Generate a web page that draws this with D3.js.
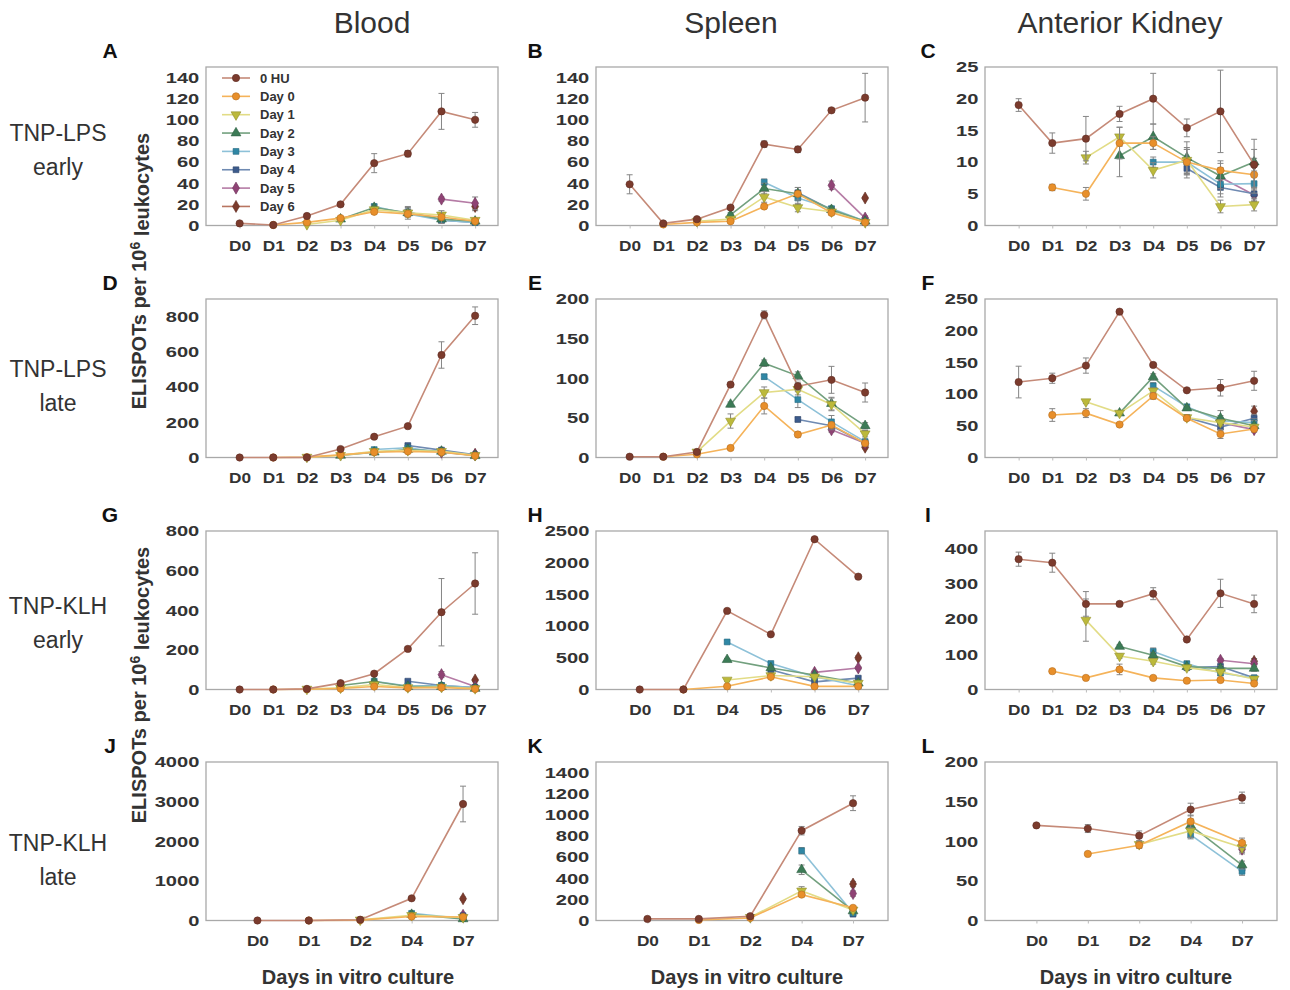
<!DOCTYPE html>
<html>
<head>
<meta charset="utf-8">
<script src="https://cdn.jsdelivr.net/npm/d3@7"></script>
<style>
  body { margin: 0; background: #fff; }
  text { font-family: "Liberation Sans", Arial, sans-serif; }
</style>
</head>
<body>
<svg id="fig" width="1290" height="990"></svg>
<script>
const _ = null;

// categories
const cats8 = ["D0", "D1", "D2", "D3", "D4", "D5", "D6", "D7"];
const catsH = ["D0", "D1", "D4", "D5", "D6", "D7"];
const cats5 = ["D0", "D1", "D2", "D4", "D7"];

const seriesNames = ["0 HU", "Day 0", "Day 1", "Day 2", "Day 3", "Day 4", "Day 5", "Day 6"];

// rows of each table: 0 HU, Day 0 ... Day 6
const valuesA = [
  [2, 0.5, 9, 20, 59, 68, 108, 100],
  [_, 0.5, 3, 7, 13, 11, 8, 4],
  [_, _, 1, 5, 15, 12, 10, 5],
  [_, _, _, 6, 17, 12, 6, 4],
  [_, _, _, _, 18, 11, 5, 3],
  [_, _, _, _, _, 13, 5, 3],
  [_, _, _, _, _, _, 25, 21],
  [_, _, _, _, _, _, _, 18]
];
const errorsA = [
  [1, 0.5, 2, 2, 9, 3, 17, 7],
  [_, _, 1, 1, 2, 2, 6, 1],
  [_, _, _, 1, 2, 6, 2, 1],
  [_, _, _, 1, 2, 3, 1, 1],
  [_, _, _, _, 2, 3, 1, 1],
  [_, _, _, _, _, 4, 1, 1],
  [_, _, _, _, _, _, 2, 6],
  [_, _, _, _, _, _, _, 4]
];

const valuesB = [
  [39, 2, 6, 17, 77, 72, 109, 121],
  [_, 1, 3, 4, 18, 30, 12, 3],
  [_, _, 4, 6, 27, 17, 13, 3],
  [_, _, _, 10, 35, 30, 15, 4],
  [_, _, _, _, 41, 26, 16, 4],
  [_, _, _, _, _, 31, 15, 3],
  [_, _, _, _, _, _, 38, 7],
  [_, _, _, _, _, _, _, 26]
];
const errorsB = [
  [9, 1, 1, 2, 3, 3, 2, 23],
  [_, _, 1, 1, 2, 2, 2, 1],
  [_, _, _, 2, 5, 4, 2, 1],
  [_, _, _, 2, 5, 6, 2, 1],
  [_, _, _, _, 3, 6, 2, 1],
  [_, _, _, _, _, 5, 2, 1],
  [_, _, _, _, _, _, 4, 2],
  [_, _, _, _, _, _, _, 1]
];

const valuesC = [
  [19, 13, 13.7, 17.6, 20, 15.4, 18, 9.6],
  [_, 6, 5, 13, 13, 10, 8.7, 8],
  [_, _, 10.7, 14, 8.7, 10.3, 3, 3.3],
  [_, _, _, 11, 14, 10.7, 7.8, 10],
  [_, _, _, _, 10, 10, 6.5, 6.6],
  [_, _, _, _, _, 9, 6, 5],
  [_, _, _, _, _, _, 7.6, 4.8],
  [_, _, _, _, _, _, _, 9.6]
];
const errorsC = [
  [1, 1.6, 3.5, 1.2, 4, 1.4, 6.5, 4],
  [_, 0.5, 1, 2.5, 1, 2, 1.5, 2],
  [_, _, 1, 1.5, 1.2, 2, 1, 1],
  [_, _, _, 3.3, 2, 2.5, 2, 2],
  [_, _, _, _, 0.8, 2, 1.5, 1.5],
  [_, _, _, _, _, 1.5, 1.5, 1],
  [_, _, _, _, _, _, 1.5, 1],
  [_, _, _, _, _, _, _, 1]
];

const valuesD = [
  [0, 0, 0, 48, 118, 178, 582, 805],
  [_, 0, 2, 15, 30, 35, 30, 10],
  [_, _, 2, 12, 35, 40, 35, 12],
  [_, _, _, 12, 30, 45, 35, 10],
  [_, _, _, _, 45, 55, 30, 12],
  [_, _, _, _, _, 68, 42, 15],
  [_, _, _, _, _, _, 30, 15],
  [_, _, _, _, _, _, _, 18]
];
const errorsD = [
  [_, _, _, 5, 8, 10, 75, 50],
  [_, _, _, 3, 5, 5, 5, 3],
  [_, _, _, 3, 5, 5, 5, 3],
  [_, _, _, 3, 5, 8, 5, 3],
  [_, _, _, _, 8, 10, 5, 3],
  [_, _, _, _, _, 10, 8, 3],
  [_, _, _, _, _, _, 5, 3],
  [_, _, _, _, _, _, _, 3]
];

const valuesE = [
  [1, 1, 7, 92, 180, 90, 98, 82],
  [_, 1, 4, 12, 65, 29, 41, 18],
  [_, _, 7, 46, 82, 86, 67, 30],
  [_, _, _, 67, 119, 103, 68, 40],
  [_, _, _, _, 102, 73, 45, 20],
  [_, _, _, _, _, 48, 40, 18],
  [_, _, _, _, _, _, 35, 18],
  [_, _, _, _, _, _, _, 13]
];
const errorsE = [
  [_, _, 2, 3, 5, 5, 17, 12],
  [_, _, 1, 2, 10, 3, 3, 3],
  [_, _, 2, 9, 7, 7, 8, 4],
  [_, _, _, 3, 4, 5, 8, 4],
  [_, _, _, _, 3, 10, 8, 3],
  [_, _, _, _, _, 3, 5, 3],
  [_, _, _, _, _, _, 3, 3],
  [_, _, _, _, _, _, _, 2]
];

const valuesF = [
  [119, 125, 145, 230, 146, 106, 110, 121],
  [_, 67, 70, 52, 97, 62, 37, 45],
  [_, _, 88, 70, 105, 63, 55, 48],
  [_, _, _, 70, 127, 78, 62, 50],
  [_, _, _, _, 113, 80, 58, 55],
  [_, _, _, _, _, 63, 48, 62],
  [_, _, _, _, _, _, 55, 44],
  [_, _, _, _, _, _, _, 73]
];
const errorsF = [
  [25, 8, 12, 2, 3, 2, 13, 15],
  [_, 10, 7, 2, 5, 3, 7, 4],
  [_, _, 3, 3, 5, 3, 5, 4],
  [_, _, _, 3, 5, 3, 12, 8],
  [_, _, _, _, 5, 3, 8, 6],
  [_, _, _, _, _, 3, 6, 6],
  [_, _, _, _, _, _, 5, 4],
  [_, _, _, _, _, _, _, 8]
];

const valuesG = [
  [0, 0, 3, 32, 80, 205, 390, 535],
  [_, 0, 1, 5, 15, 8, 10, 3],
  [_, _, 2, 8, 25, 10, 12, 5],
  [_, _, _, 20, 40, 15, 15, 5],
  [_, _, _, _, 42, 18, 20, 8],
  [_, _, _, _, _, 42, 20, 10],
  [_, _, _, _, _, _, 75, 15],
  [_, _, _, _, _, _, _, 48]
];
const errorsG = [
  [_, _, _, 5, 8, 10, 170, 155],
  [_, _, _, 2, 4, 3, 3, 2],
  [_, _, _, 3, 5, 3, 3, 2],
  [_, _, _, 4, 6, 4, 4, 2],
  [_, _, _, _, 6, 4, 4, 2],
  [_, _, _, _, _, 6, 4, 3],
  [_, _, _, _, _, _, 15, 5],
  [_, _, _, _, _, _, _, 5]
];

const valuesH = [
  [0, 0, 1240, 870, 2370, 1780],
  [_, 0, 50, 200, 50, 50],
  [_, _, 150, 220, 200, 100],
  [_, _, 470, 340, 230, 100],
  [_, _, 750, 410, 200, 60],
  [_, _, _, 310, 120, 180],
  [_, _, _, _, 270, 340],
  [_, _, _, _, _, 500]
];
const errorsH = [
  [_, _, 20, 20, 20, 20],
  [_, _, 20, 20, 20, 20],
  [_, _, 20, 20, 20, 20],
  [_, _, 20, 20, 20, 20],
  [_, _, 20, 20, 20, 20],
  [_, _, _, 20, 20, 20],
  [_, _, _, _, 20, 20],
  [_, _, _, _, _, 30]
];

const valuesI = [
  [370, 360, 243, 243, 272, 142, 273, 243],
  [_, 52, 33, 57, 33, 25, 27, 17],
  [_, _, 197, 95, 80, 62, 50, 30],
  [_, _, _, 122, 97, 65, 60, 60],
  [_, _, _, _, 108, 73, 47, 33],
  [_, _, _, _, _, 62, 65, 33],
  [_, _, _, _, _, _, 83, 73],
  [_, _, _, _, _, _, _, 80]
];
const errorsI = [
  [20, 27, 35, 5, 17, 5, 40, 25],
  [_, 4, 5, 15, 4, 4, 4, 4],
  [_, _, 60, 6, 8, 5, 5, 5],
  [_, _, _, 5, 8, 5, 8, 8],
  [_, _, _, _, 10, 8, 8, 5],
  [_, _, _, _, _, 5, 8, 5],
  [_, _, _, _, _, _, 5, 8],
  [_, _, _, _, _, _, _, 8]
];

const valuesJ = [
  [0, 0, 20, 560, 2940],
  [_, 0, 10, 100, 90],
  [_, _, 15, 130, 80],
  [_, _, _, 150, 40],
  [_, _, _, 180, 50],
  [_, _, _, _, 120],
  [_, _, _, _, 130],
  [_, _, _, _, 550]
];
const errorsJ = [
  [_, _, 10, 20, 450],
  [_, _, _, 20, 20],
  [_, _, _, 20, 20],
  [_, _, _, 30, 20],
  [_, _, _, 40, 20],
  [_, _, _, _, 30],
  [_, _, _, _, 30],
  [_, _, _, _, 40]
];

const valuesK = [
  [15, 15, 40, 850, 1110],
  [_, 5, 25, 245, 120],
  [_, _, 30, 280, 100],
  [_, _, _, 480, 90],
  [_, _, _, 660, 70],
  [_, _, _, _, 60],
  [_, _, _, _, 255],
  [_, _, _, _, 345]
];
const errorsK = [
  [5, 5, 10, 40, 70],
  [_, 5, 10, 20, 15],
  [_, _, 10, 40, 15],
  [_, _, _, 45, 15],
  [_, _, _, 30, 15],
  [_, _, _, _, 15],
  [_, _, _, _, 25],
  [_, _, _, _, 25]
];

const valuesL = [
  [120, 116, 107, 140, 155],
  [_, 84, 95, 125, 98],
  [_, _, 96, 113, 92],
  [_, _, _, 120, 70],
  [_, _, _, 108, 62],
  [_, _, _, _, 66],
  [_, _, _, _, 90],
  [_, _, _, _, 95]
];
const errorsL = [
  [2, 5, 6, 8, 7],
  [_, 2, 4, 8, 6],
  [_, _, 4, 8, 6],
  [_, _, _, 8, 5],
  [_, _, _, 5, 5],
  [_, _, _, _, 5],
  [_, _, _, _, 6],
  [_, _, _, _, 6]
];

const lineColors = ["#c58a78", "#f5b35a", "#e2dc86", "#72a07e", "#8dc1d8", "#6f8ab2", "#b57ba5", "#b87561"];
const markColors = ["#7b3b2d", "#e88f2a", "#bcb93b", "#3c7b56", "#2f87a5", "#3c5b8c", "#8f4375", "#7b3a2c"];
const markTypes = ["circle", "circle", "down", "up", "square", "square", "diamond", "diamond"];

const panels = [
  { letter: "A", row: 0, col: 0, cats: cats8, values: valuesA, errors: errorsA, yMax: 150, yTop: 140, step: 20 },
  { letter: "B", row: 0, col: 1, cats: cats8, values: valuesB, errors: errorsB, yMax: 150, yTop: 140, step: 20 },
  { letter: "C", row: 0, col: 2, cats: cats8, values: valuesC, errors: errorsC, yMax: 25, yTop: 25, step: 5 },
  { letter: "D", row: 1, col: 0, cats: cats8, values: valuesD, errors: errorsD, yMax: 900, yTop: 800, step: 200 },
  { letter: "E", row: 1, col: 1, cats: cats8, values: valuesE, errors: errorsE, yMax: 200, yTop: 200, step: 50 },
  { letter: "F", row: 1, col: 2, cats: cats8, values: valuesF, errors: errorsF, yMax: 250, yTop: 250, step: 50 },
  { letter: "G", row: 2, col: 0, cats: cats8, values: valuesG, errors: errorsG, yMax: 800, yTop: 800, step: 200 },
  { letter: "H", row: 2, col: 1, cats: catsH, values: valuesH, errors: errorsH, yMax: 2500, yTop: 2500, step: 500 },
  { letter: "I", row: 2, col: 2, cats: cats8, values: valuesI, errors: errorsI, yMax: 450, yTop: 400, step: 100 },
  { letter: "J", row: 3, col: 0, cats: cats5, values: valuesJ, errors: errorsJ, yMax: 4000, yTop: 4000, step: 1000 },
  { letter: "K", row: 3, col: 1, cats: cats5, values: valuesK, errors: errorsK, yMax: 1500, yTop: 1400, step: 200 },
  { letter: "L", row: 3, col: 2, cats: cats5, values: valuesL, errors: errorsL, yMax: 200, yTop: 200, step: 50 }
];

const colTitles = ["Blood", "Spleen", "Anterior Kidney"];
const rowLabels = [["TNP-LPS", "early"], ["TNP-LPS", "late"], ["TNP-KLH", "early"], ["TNP-KLH", "late"]];

// layout
const colLeft = [206, 596, 985], plotW = 292;
const rowTop = [67, 299, 531, 762], plotH = 158.5;
const letterX = [110, 535, 928];
const colTitleX = [372, 731, 1120];
const xTitleX = [358, 747, 1136];
const rowLabelY = [133, 369, 606, 843];

const svg = d3.select("#fig");

function drawMarker(sel, type, color, size) {
  const sym = { circle: d3.symbolCircle, down: d3.symbolTriangle, up: d3.symbolTriangle,
                square: d3.symbolSquare, diamond: d3.symbolDiamond }[type];
  sel.append("path")
    .attr("d", d3.symbol().type(sym).size(size))
    .attr("transform", type === "down" ? "rotate(180)" : null)
    .attr("fill", color)
    .attr("stroke", d3.color(color).darker(0.7))
    .attr("stroke-width", 0.6);
}

panels.forEach(p => {
  const g = svg.append("g")
    .attr("transform", `translate(${colLeft[p.col]},${rowTop[p.row]})`);
  const n = p.cats.length;
  const x = d3.scaleLinear().domain([-1, n - 0.32]).range([0, plotW]);
  const y = d3.scaleLinear().domain([0, p.yMax]).range([plotH, 0]);

  g.append("rect")
    .attr("width", plotW).attr("height", plotH)
    .attr("fill", "none").attr("stroke", "#a9a9a9").attr("stroke-width", 1.3);

  const ya = g.append("g")
    .call(d3.axisLeft(y).tickValues(d3.range(0, p.yTop + 1e-9, p.step))
      .tickFormat(d3.format("d")).tickSize(0).tickPadding(5));
  ya.select(".domain").remove();
  ya.selectAll("text")
    .style("font-family", '"Liberation Sans", Arial, sans-serif')
    .style("font-size", "15px").style("font-weight", "bold").attr("fill", "#333")
    .attr("transform", "scale(1.34,1)");

  const xa = g.append("g")
    .attr("transform", `translate(0,${plotH})`)
    .call(d3.axisBottom(x).tickValues(d3.range(n)).tickFormat(i => p.cats[i]).tickSize(3).tickPadding(12));
  xa.select(".domain").remove();
  xa.selectAll("line").attr("stroke", "#bbb");
  xa.selectAll("text")
    .style("font-family", '"Liberation Sans", Arial, sans-serif')
    .style("font-size", "15px").style("font-weight", "bold").attr("fill", "#333")
    .attr("transform", "scale(1.15,1)");

  // series, 0 HU drawn last so it sits on top
  d3.range(p.values.length).reverse().forEach(s => {
    const pts = p.values[s].map((v, i) => ({ i, v, e: p.errors[s][i] }));
    const line = d3.line()
      .defined(d => d.v != null)
      .x(d => x(d.i)).y(d => y(d.v));
    g.append("path")
      .attr("d", line(pts))
      .attr("fill", "none")
      .attr("stroke", lineColors[s])
      .attr("stroke-width", 1.6);

    pts.filter(d => d.v != null && d.e != null).forEach(d => {
      const eb = g.append("g").attr("stroke", "#858585").attr("stroke-width", 1);
      const lo = y(Math.max(0, d.v - d.e)), hi = y(d.v + d.e);
      eb.append("line").attr("x1", x(d.i)).attr("x2", x(d.i)).attr("y1", lo).attr("y2", hi);
      eb.append("line").attr("x1", x(d.i) - 3).attr("x2", x(d.i) + 3).attr("y1", lo).attr("y2", lo);
      eb.append("line").attr("x1", x(d.i) - 3).attr("x2", x(d.i) + 3).attr("y1", hi).attr("y2", hi);
    });

    pts.filter(d => d.v != null).forEach(d => {
      const m = g.append("g").attr("transform", `translate(${x(d.i)},${y(d.v)})`);
      drawMarker(m, markTypes[s], markColors[s], markTypes[s] === "square" ? 34 : 42);
    });
  });

  // panel letter
  svg.append("text")
    .attr("x", letterX[p.col]).attr("y", rowTop[p.row] - 9)
    .attr("text-anchor", "middle")
    .style("font-size", "21px").style("font-weight", "bold").attr("fill", "#111")
    .text(p.letter);

  // legend in panel A
  if (p.letter === "A") {
    seriesNames.forEach((name, s) => {
      const ly = 11 + s * 18.35;
      g.append("line").attr("x1", 16).attr("x2", 44).attr("y1", ly).attr("y2", ly)
        .attr("stroke", lineColors[s]).attr("stroke-width", 1.6);
      const m = g.append("g").attr("transform", `translate(30,${ly})`);
      drawMarker(m, markTypes[s], markColors[s], markTypes[s] === "square" ? 34 : 42);
      g.append("text").attr("x", 54).attr("y", ly).attr("dy", "0.35em")
        .style("font-size", "13px").style("font-weight", "bold").attr("fill", "#333")
        .text(name);
    });
  }
});

// column titles
colTitles.forEach((t, c) => {
  svg.append("text")
    .attr("x", colTitleX[c]).attr("y", 33)
    .attr("text-anchor", "middle")
    .style("font-size", "30px").attr("fill", "#333")
    .text(t);
  svg.append("text")
    .attr("x", xTitleX[c]).attr("y", 984)
    .attr("text-anchor", "middle")
    .style("font-size", "20px").style("font-weight", "bold").attr("fill", "#333")
    .text("Days in vitro culture");
});

// row labels
rowLabels.forEach((lab, r) => {
  lab.forEach((t, k) => {
    svg.append("text")
      .attr("x", 58).attr("y", rowLabelY[r] + k * 34).attr("dy", "0.35em")
      .attr("text-anchor", "middle")
      .style("font-size", "23px").attr("fill", "#333")
      .text(t);
  });
});

// y titles
[271, 685].forEach(cy => {
  const t = svg.append("text")
    .attr("transform", `translate(139,${cy}) rotate(-90)`)
    .attr("text-anchor", "middle").attr("dy", "0.35em")
    .style("font-size", "20px").style("font-weight", "bold").attr("fill", "#333");
  t.append("tspan").text("ELISPOTs per 10");
  t.append("tspan").attr("dy", "-0.45em").style("font-size", "14px").text("6");
  t.append("tspan").attr("dy", "0.45em").text(" leukocytes");
});
</script>
</body>
</html>
